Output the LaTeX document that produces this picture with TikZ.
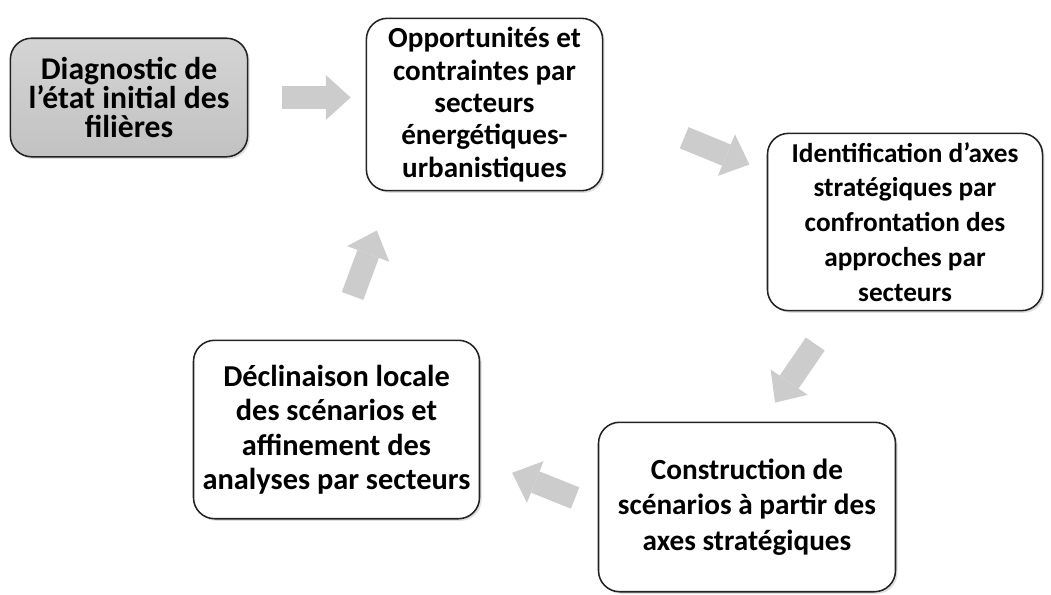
\documentclass[tikz,border=0pt]{standalone}
\usepackage{fontspec}
\setmainfont{Carlito}
\usepackage{tikz}
\usetikzlibrary{positioning,calc,arrows.meta,shadows}
\definecolor{boxline}{RGB}{35,35,35}
\definecolor{arrgray}{RGB}{204,204,204}
\definecolor{diagtop}{RGB}{212,212,212}
\definecolor{diagbot}{RGB}{194,194,194}
\newcommand{\bfs}[2]{\fontsize{#1}{#2}\selectfont\bfseries}

\begin{document}
\begin{tikzpicture}[
  x=0.025cm, y=-0.025cm,
  box/.style={draw=boxline, line width=1.1pt, rounded corners=15pt, fill=white,
              align=center, inner sep=0pt,
              drop shadow={shadow xshift=1.5pt, shadow yshift=-1.5pt, opacity=0.25}},
  arr/.style={draw=arrgray, line width=16.3pt,
              -{Triangle[length=17.7pt, width=32pt, line width=0pt]}}
]
  \useasboundingbox (0,0) rectangle (1051,594);

  % Starting point
  \node[box, top color=diagtop, bottom color=diagbot,
        minimum width=168.7pt, minimum height=84.3pt,
        font=\bfs{22.5}{20.8}] (diag) at (129,97.5)
    {Diagnostic de\\l’état initial des\\filières};

  % Cycle
  \node[box, minimum width=168pt, minimum height=122.6pt,
        font=\bfs{20.7}{23}] (opp) at (484.5,104.5)
    {Opportunités et\\contraintes par\\secteurs\\énergétiques-\\urbanistiques};
  \node[box, minimum width=195.6pt, minimum height=126.1pt,
        font=\bfs{19.4}{24.8}] (ident) at (905,222)
    {Identification d’axes\\stratégiques par\\confrontation des\\approches par\\secteurs};
  \node[box, minimum width=211.2pt, minimum height=120.5pt,
        font=\bfs{20.8}{25.2}] (constr) at (747,507)
    {Construction de\\scénarios à partir des\\axes stratégiques};
  \node[box, minimum width=203.4pt, minimum height=126.9pt,
        font=\bfs{21.6}{24.5}] (decl) at (336.5,429.5)
    {Déclinaison locale\\des scénarios et\\affinement des\\analyses par secteurs};

  % Block arrows
  \draw[arr, shorten <=24.1pt, shorten >=10.6pt] (diag.east) -- (diag.east -| opp.west);
  \draw[arr, shorten <=62.1pt, shorten >=13.3pt] (opp.east) -- (ident.160);
  \draw[arr, shorten <=28.1pt, shorten >=16.3pt] (ident.233) -- (constr.80);
  \draw[arr, shorten <=17.3pt, shorten >=24.4pt] (constr.west) -- (decl.348);
  \draw[arr, shorten <=33pt, shorten >=29.6pt] (decl.north) -- (opp.223);
\end{tikzpicture}
\end{document}
